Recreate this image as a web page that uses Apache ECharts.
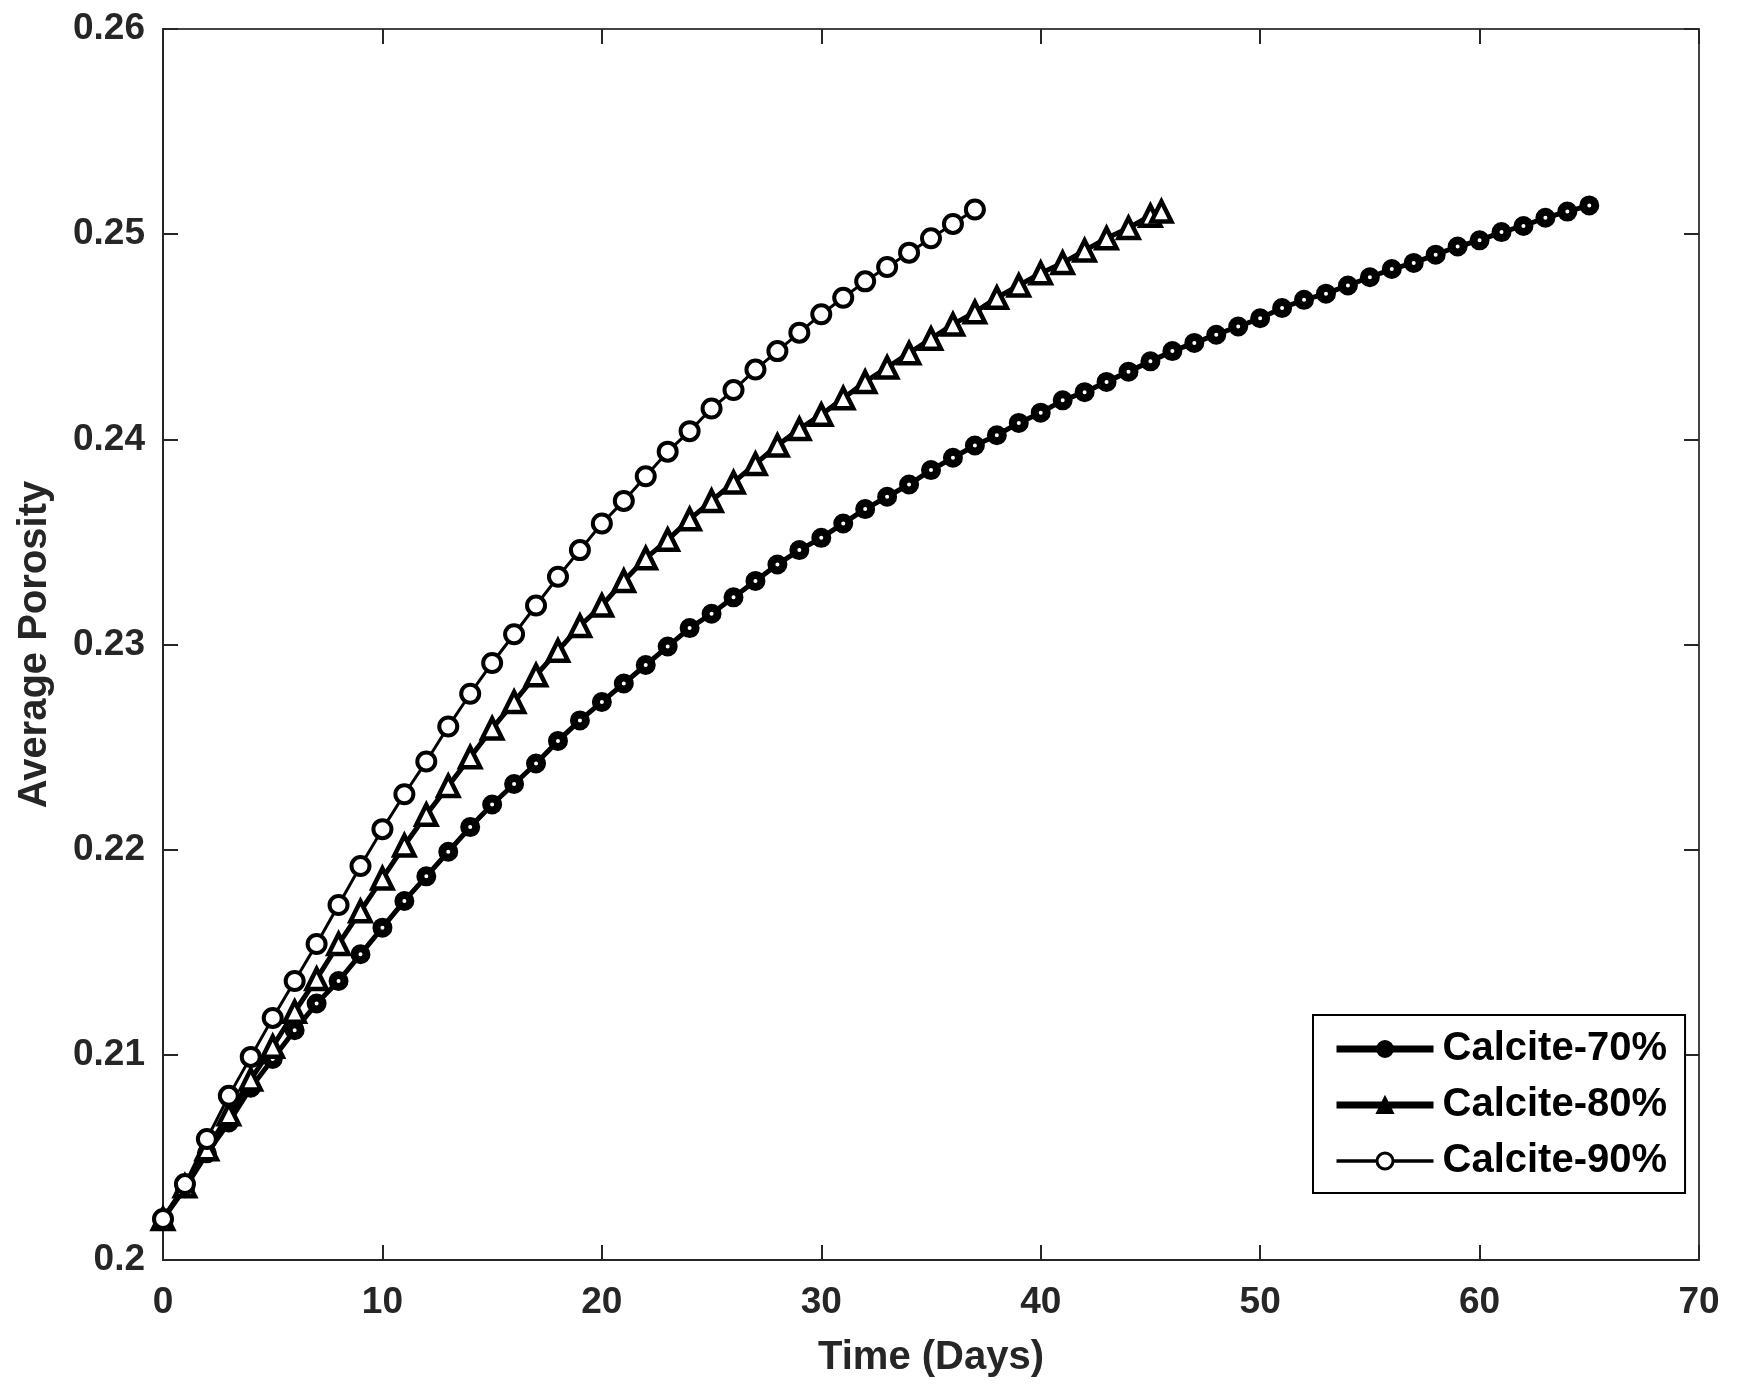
<!DOCTYPE html>
<html>
<head lang="en">
    <meta charset="UTF-8">
    <title>Average Porosity</title>
    <style>
        html, body { margin: 0; padding: 0; background: #fff; }
    </style>
</head>
<body>
<div id="mychart" style="width: 1739px;height: 1398px;"></div>
<script src="https://cdn.jsdelivr.net/npm/echarts@6/dist/echarts.min.js"></script>
<script>
// days (x) and average porosity (y)
var days70 = [0,1,2,3,4,5,6,7,8,9,10,11,12,13,14,15,16,17,18,19,20,21,22,23,24,25,26,27,28,29,30,31,32,
    33,34,35,36,37,38,39,40,41,42,43,44,45,46,47,48,49,50,51,52,53,54,55,56,57,58,59,60,61,62,63,64,65];
var por70 = [0.2020,0.2035,0.2052,0.2067,0.2084,0.2098,0.2112,0.2125,0.2136,0.2149,0.2162,0.2175,0.2187,
    0.2199,0.2211,0.2222,0.2232,0.2242,0.2253,0.2263,0.2272,0.2281,0.2290,0.2299,0.2308,0.2315,0.2323,
    0.2331,0.2339,0.2346,0.2352,0.2359,0.2366,0.2372,0.2378,0.2385,0.2391,0.2397,0.2402,0.2408,0.2413,
    0.2419,0.2423,0.2428,0.2433,0.2438,0.2443,0.2447,0.2451,0.2455,0.2459,0.2464,0.2468,0.2471,0.2475,
    0.2479,0.2483,0.2486,0.2490,0.2494,0.2497,0.2501,0.2504,0.2508,0.2511,0.2514];

var days80 = [0,1,2,3,4,5,6,7,8,9,10,11,12,13,14,15,16,17,18,19,20,21,22,23,24,25,26,27,28,29,30,31,32,
    33,34,35,36,37,38,39,40,41,42,43,44,45,45.5];
var por80 = [0.2020,0.2036,0.2054,0.2071,0.2088,0.2104,0.2121,0.2137,0.2154,0.2170,0.2186,0.2202,0.2217,
    0.2231,0.2245,0.2259,0.2272,0.2285,0.2297,0.2309,0.2319,0.2331,0.2342,0.2351,0.2361,0.2370,0.2379,
    0.2388,0.2397,0.2405,0.2412,0.2420,0.2428,0.2435,0.2442,0.2449,0.2456,0.2462,0.2469,0.2475,0.2481,
    0.2486,0.2492,0.2498,0.2503,0.2509,0.2511];

var days90 = [0,1,2,3,4,5,6,7,8,9,10,11,12,13,14,15,16,17,18,19,20,21,22,23,24,25,26,27,28,29,30,31,32,
    33,34,35,36,37];
var por90 = [0.2020,0.2037,0.2059,0.2080,0.2099,0.2118,0.2136,0.2154,0.2173,0.2192,0.2210,0.2227,0.2243,
    0.2260,0.2276,0.2291,0.2305,0.2319,0.2333,0.2346,0.2359,0.2370,0.2382,0.2394,0.2404,0.2415,0.2424,
    0.2434,0.2443,0.2452,0.2461,0.2469,0.2477,0.2484,0.2491,0.2498,0.2505,0.2512];

var seriesNames = ['Calcite-70%', 'Calcite-80%', 'Calcite-90%'];
var xTicks = [0, 10, 20, 30, 40, 50, 60, 70];
var yTicks = [0.2, 0.21, 0.22, 0.23, 0.24, 0.25, 0.26];

//把x和y数组拼成点对
function pairUp(xs, ys) {
    return xs.map(function (x, i) {
        return [x, ys[i]];
    });
}

var myChart = echarts.init(document.getElementById('mychart'));
var txt = '#262626';
var font = '"Liberation Sans", Arial, Helvetica, sans-serif';

var option = {
    animation: false,
    backgroundColor: '#fff',
    textStyle: { fontFamily: font },
    grid: { left: 163, top: 29, width: 1536, height: 1231 },
    legend: {
        orient: 'vertical',
        left: 1313,
        top: 1015,
        data: [
            { name: seriesNames[0], itemStyle: { color: '#000', borderColor: '#000', borderWidth: 2 }, lineStyle: { color: '#000', width: 7 } },
            { name: seriesNames[1], itemStyle: { color: '#000', borderColor: '#000', borderWidth: 2 }, lineStyle: { color: '#000', width: 7 } },
            { name: seriesNames[2], itemStyle: { color: '#fff', borderColor: '#000', borderWidth: 3 }, lineStyle: { color: '#000', width: 3.5 } }
        ],
        itemWidth: 97,
        itemHeight: 20,
        itemGap: 16,
        padding: [14, 18, 12, 20],
        borderColor: '#000',
        borderWidth: 2,
        backgroundColor: '#fff',
        textStyle: { color: '#000', fontSize: 40, fontWeight: 'bold', fontFamily: font, lineHeight: 39, padding: [0, 0, 0, 4] }
    },
    xAxis: [
        {
            type: 'value',
            min: xTicks[0],
            max: xTicks[xTicks.length - 1],
            interval: 10,
            name: 'Time (Days)',
            nameLocation: 'middle',
            nameGap: 78,
            nameTextStyle: { color: txt, fontSize: 40, fontWeight: 'bold', fontFamily: font },
            axisLine: { show: true, lineStyle: { color: txt, width: 2 } },
            axisTick: { show: true, inside: true, length: 15, lineStyle: { color: txt, width: 2 } },
            axisLabel: { color: txt, fontSize: 37, fontWeight: 'bold', margin: 24, fontFamily: font },
            splitLine: { show: false }
        },
        {
            type: 'value',
            position: 'top',
            min: xTicks[0],
            max: xTicks[xTicks.length - 1],
            interval: 10,
            axisLine: { show: true, onZero: false, lineStyle: { color: '#444', width: 2 } },
            axisTick: { show: true, inside: true, length: 15, lineStyle: { color: txt, width: 2 } },
            axisLabel: { show: false },
            splitLine: { show: false }
        }
    ],
    yAxis: [
        {
            type: 'value',
            min: yTicks[0],
            max: yTicks[yTicks.length - 1],
            interval: 0.01,
            name: 'Average Porosity',
            nameLocation: 'middle',
            nameGap: 108,
            nameTextStyle: { color: txt, fontSize: 40, fontWeight: 'bold', fontFamily: font },
            axisLine: { show: true, lineStyle: { color: txt, width: 2 } },
            axisTick: { show: true, inside: true, length: 15, lineStyle: { color: txt, width: 2 } },
            axisLabel: {
                color: txt, fontSize: 37, fontWeight: 'bold', margin: 18, fontFamily: font,
                formatter: function (v) { return String(+v.toFixed(2)); }
            },
            splitLine: { show: false }
        },
        {
            type: 'value',
            position: 'right',
            min: yTicks[0],
            max: yTicks[yTicks.length - 1],
            interval: 0.01,
            axisLine: { show: true, onZero: false, lineStyle: { color: '#444', width: 2 } },
            axisTick: { show: true, inside: true, length: 15, lineStyle: { color: txt, width: 2 } },
            axisLabel: { show: false },
            splitLine: { show: false }
        }
    ],
    series: [
        {
            name: seriesNames[0],
            type: 'line',
            data: pairUp(days70, por70),
            symbol: 'circle',
            symbolSize: 12,
            lineStyle: { color: '#000', width: 5 },
            itemStyle: { color: '#fff', borderColor: '#000', borderWidth: 8 }
        },
        {
            name: seriesNames[1],
            type: 'line',
            data: pairUp(days80, por80),
            symbol: 'triangle',
            symbolSize: 20,
            lineStyle: { color: '#000', width: 5 },
            itemStyle: { color: '#fff', borderColor: '#000', borderWidth: 4.5 }
        },
        {
            name: seriesNames[2],
            type: 'line',
            data: pairUp(days90, por90),
            symbol: 'circle',
            symbolSize: 18,
            lineStyle: { color: '#000', width: 3 },
            itemStyle: { color: '#fff', borderColor: '#000', borderWidth: 4 }
        }
    ]
};
myChart.setOption(option);
</script>
</body>
</html>
